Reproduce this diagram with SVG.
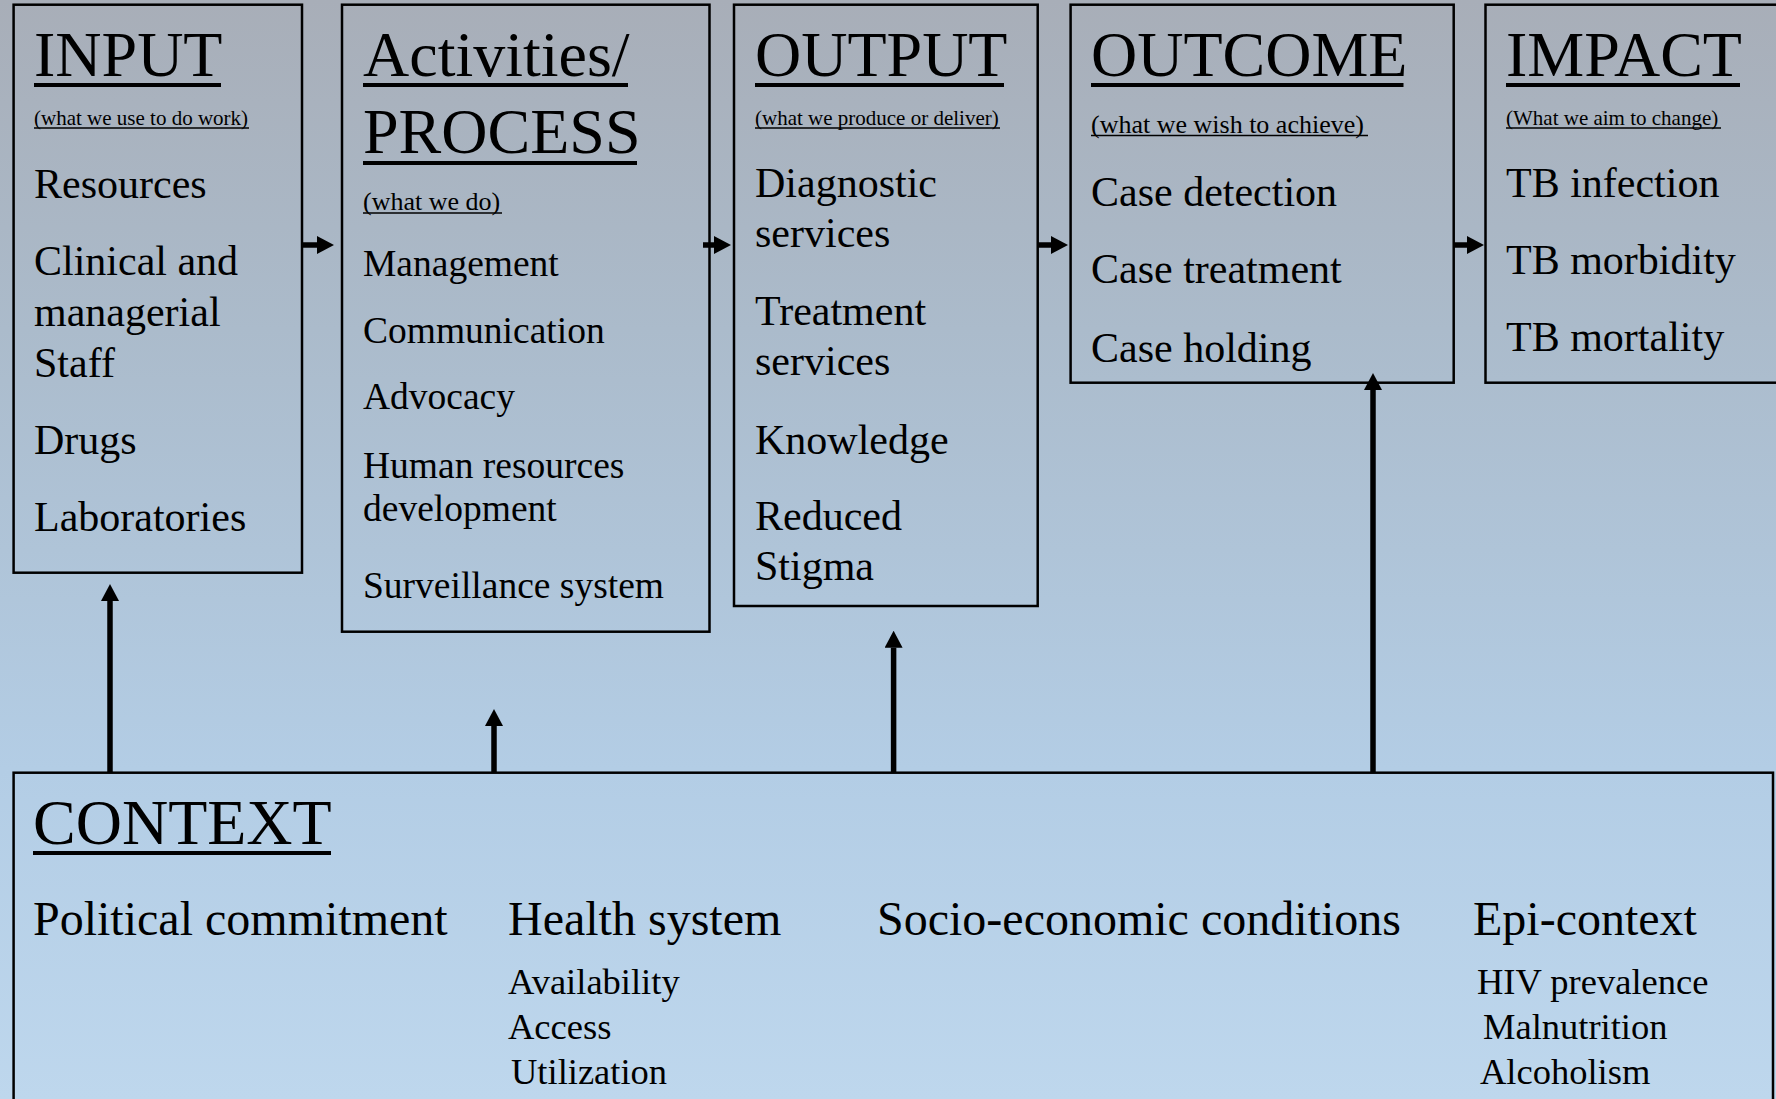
<svg xmlns="http://www.w3.org/2000/svg" width="1776" height="1099" viewBox="0 0 1776 1099">
<defs>
<linearGradient id="bg" x1="0" y1="0" x2="0" y2="1">
<stop offset="0" stop-color="#A8AEB8"/>
<stop offset="0.3" stop-color="#ABBBCB"/>
<stop offset="0.7" stop-color="#B3CDE5"/>
<stop offset="1" stop-color="#BED7ED"/>
</linearGradient>
<marker id="ah" markerUnits="userSpaceOnUse" markerWidth="17" markerHeight="18" refX="0" refY="9" orient="auto" viewBox="0 0 17 18">
<path d="M0,0 L17,9 L0,18 Z" fill="#000"/>
</marker>
<style>
.box{fill:none;stroke:#000;stroke-width:2.5}
.t{font-family:"Liberation Serif","Times New Roman",serif;fill:#000}
.h{font-size:64px}
.s21{font-size:21px}
.s26{font-size:26px}
.i42{font-size:42px}
.i38{font-size:37.5px}
.c48{font-size:48px}
.c36{font-size:36.5px}
.ul{stroke:#000;stroke-width:4}
.uls{stroke:#000;stroke-width:1.5}
.conn{stroke:#000;stroke-width:5.5;fill:none;marker-end:url(#ah)}
</style>
</defs>
<rect x="0" y="0" width="1776" height="1099" fill="url(#bg)"/>

<g id="input">
<rect class="box" x="13.6" y="4.7" width="288.4" height="568"/>
<text class="t h" x="34" y="76">INPUT</text>
<line class="ul" x1="34" y1="85" x2="221" y2="85"/>
<text class="t s21" x="34" y="124.5">(what we use to do work)</text>
<line class="uls" x1="34" y1="128" x2="249" y2="128"/>
<text class="t i42" x="34" y="197.5">Resources</text>
<text class="t i42" x="34" y="274.5">Clinical and</text>
<text class="t i42" x="34" y="325.5">managerial</text>
<text class="t i42" x="34" y="376.5">Staff</text>
<text class="t i42" x="34" y="454">Drugs</text>
<text class="t i42" x="34" y="530.5">Laboratories</text>
</g>

<g id="process">
<rect class="box" x="342" y="4.7" width="367.5" height="627"/>
<text class="t h" x="363" y="76">Activities/</text>
<line class="ul" x1="363" y1="85" x2="628" y2="85"/>
<text class="t h" x="363" y="153">PROCESS</text>
<line class="ul" x1="363" y1="163" x2="637" y2="163"/>
<text class="t s26" x="363" y="210">(what we do)</text>
<line class="uls" x1="363" y1="213" x2="502" y2="213"/>
<text class="t i38" x="363" y="276">Management</text>
<text class="t i38" x="363" y="343">Communication</text>
<text class="t i38" x="363" y="409">Advocacy</text>
<text class="t i38" x="363" y="477.5">Human resources</text>
<text class="t i38" x="363" y="521">development</text>
<text class="t i38" x="363" y="598">Surveillance system</text>
</g>

<g id="output">
<rect class="box" x="734" y="4.7" width="303.7" height="601.3"/>
<text class="t h" x="755" y="76">OUTPUT</text>
<line class="ul" x1="755" y1="85" x2="1004" y2="85"/>
<text class="t s21" x="755" y="124.5">(what we produce or deliver)</text>
<line class="uls" x1="755" y1="128" x2="1000" y2="128"/>
<text class="t i42" x="755" y="197">Diagnostic</text>
<text class="t i42" x="755" y="247">services</text>
<text class="t i42" x="755" y="325">Treatment</text>
<text class="t i42" x="755" y="375">services</text>
<text class="t i42" x="755" y="453.5">Knowledge</text>
<text class="t i42" x="755" y="530">Reduced</text>
<text class="t i42" x="755" y="580">Stigma</text>
</g>

<g id="outcome">
<rect class="box" x="1070.6" y="4.7" width="383.1" height="378"/>
<text class="t h" x="1091" y="76">OUTCOME</text>
<line class="ul" x1="1091" y1="85" x2="1403.5" y2="85"/>
<text class="t s26" x="1091" y="132.5">(what we wish to achieve)</text>
<line class="uls" x1="1091" y1="135.5" x2="1368" y2="135.5"/>
<text class="t i42" x="1091" y="206">Case detection</text>
<text class="t i42" x="1091" y="283">Case treatment</text>
<text class="t i42" x="1091" y="361.5">Case holding</text>
</g>

<g id="impact">
<rect class="box" x="1485.5" y="4.7" width="310" height="378"/>
<text class="t h" x="1506" y="76">IMPACT</text>
<line class="ul" x1="1506" y1="85" x2="1740" y2="85"/>
<text class="t s21" x="1506" y="124.5">(What we aim to change)</text>
<line class="uls" x1="1506" y1="128" x2="1721" y2="128"/>
<text class="t i42" x="1506" y="197">TB infection</text>
<text class="t i42" x="1506" y="273.5">TB morbidity</text>
<text class="t i42" x="1506" y="350.5">TB mortality</text>
</g>

<g id="context">
<rect class="box" x="13.6" y="772.7" width="1759.4" height="340"/>
<text class="t h" x="33" y="844">CONTEXT</text>
<line class="ul" x1="33" y1="853" x2="331" y2="853"/>
<text class="t c48" x="33" y="935">Political commitment</text>
<text class="t c48" x="508" y="935">Health system</text>
<text class="t c36" x="508" y="994">Availability</text>
<text class="t c36" x="508" y="1039">Access</text>
<text class="t c36" x="511" y="1084">Utilization</text>
<text class="t c48" x="877" y="935">Socio-economic conditions</text>
<text class="t c48" x="1473" y="935">Epi-context</text>
<text class="t c36" x="1477" y="994">HIV prevalence</text>
<text class="t c36" x="1483" y="1039">Malnutrition</text>
<text class="t c36" x="1480" y="1084">Alcoholism</text>
</g>

<g id="connectors">
<line class="conn" x1="302" y1="245" x2="317" y2="245"/>
<line class="conn" x1="703" y1="245" x2="714" y2="245"/>
<line class="conn" x1="1037.7" y1="245" x2="1051" y2="245"/>
<line class="conn" x1="1453.7" y1="245" x2="1467" y2="245"/>
<line class="conn" x1="110" y1="772.7" x2="110" y2="601"/>
<line class="conn" x1="494" y1="772.7" x2="494" y2="726"/>
<line class="conn" x1="893.6" y1="772.7" x2="893.6" y2="647.7"/>
<line class="conn" x1="1373" y1="772.7" x2="1373" y2="390"/>
</g>
</svg>
